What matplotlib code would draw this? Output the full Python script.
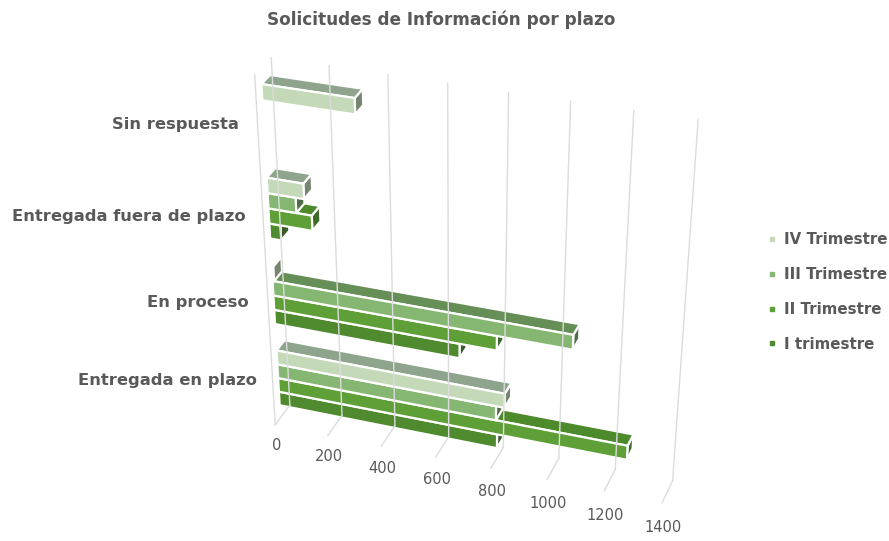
import numpy as np
import matplotlib
matplotlib.use("Agg")
import matplotlib.pyplot as plt
from matplotlib.lines import Line2D

categories = ["Entregada en plazo", "En proceso", "Entregada fuera de plazo", "Sin respuesta"]
series = ["I trimestre", "II Trimestre", "III Trimestre", "IV Trimestre"]
q1 = [805, 670, 40, 0]
q2 = [1260, 800, 155, 0]
q3 = [800, 1060, 100, 0]
q4 = [830, 5, 130, 320]
values = [q1, q2, q3, q4]
ticks = [0, 200, 400, 600, 800, 1000, 1200, 1400]

front_cols = ["#4f8a2e", "#5f9f38", "#86b772", "#c3d9b8"]
top_cols = ["#3f7026", "#4c8a2c", "#668f58", "#8fa48c"]
end_cols = ["#3a5a28", "#3f6b2a", "#4f6b48", "#75856f"]
grid_col = "#dcdcdc"
text_col = "#595959"

# wall corners in pixels, (value, height, depth) -> (x, y), used to fit a camera
world = np.array([[0, 0, 0], [0, 1, 0], [0, 0, 1], [0, 1, 1], [1400, 0, 0], [1400, 1, 0], [1400, 0, 1]], float)
pixel = np.array([[288, 408], [273, 57], [277, 422], [253, 75], [673, 478], [698, 120], [662, 505]], float)
world[:, 0] /= 1400

rows = []
rhs = []
for (a, b, c), (x, y) in zip(world, pixel):
    rows.append([a, b, c, 1, 0, 0, 0, 0, -x * a, -x * b, -x * c])
    rhs.append(x)
    rows.append([0, 0, 0, 0, a, b, c, 1, -y * a, -y * b, -y * c])
    rhs.append(y)
cam = np.linalg.lstsq(np.array(rows), np.array(rhs), rcond=None)[0]
cam = np.append(cam, 1).reshape(3, 4)


def project(v, h, d):
    p = cam @ np.array([v / 1400, h, d, 1])
    return p[0] / p[2], p[1] / p[2]


def face(points, col):
    xy = [project(*p) for p in points]
    ax.fill(*zip(*xy), facecolor=col, edgecolor="white", linewidth=1.6, joinstyle="miter")


plt.rcParams["font.family"] = "DejaVu Sans"
fig = plt.figure(figsize=(8.89, 5.41), dpi=100)
ax = fig.add_axes([0, 0, 1, 1])
ax.set_xlim(0, 889)
ax.set_ylim(541, 0)
ax.axis("off")

for t in ticks:
    ax.plot(*zip(project(t, 0, 0), project(t, 1, 0)), color=grid_col, lw=1)
    ax.plot(*zip(project(t, 0, 0), project(t, 0, 1)), color=grid_col, lw=1)
    x, y = project(t, 0, 1)
    ax.text(x + 1, y + 21 + 4 * t / 1400, str(t), ha="center", va="center", fontsize=10.5, color=text_col)
ax.plot(*zip(project(0, 0, 1), project(0, 1, 1)), color=grid_col, lw=1)

d_back = 0.12
d_front = 0.65
slot = 0.17
for c in range(len(categories)):
    for s in range(len(series)):
        val = values[s][c]
        if val == 0:
            continue
        h0 = (c + 0.16 + s * slot) / 4
        h1 = (c + 0.16 + (s + 1) * slot) / 4
        face([(val, h0, d_front), (val, h0, d_back), (val, h1, d_back), (val, h1, d_front)], end_cols[s])
        face([(0, h1, d_front), (val, h1, d_front), (val, h1, d_back), (0, h1, d_back)], top_cols[s])
        face([(0, h0, d_front), (val, h0, d_front), (val, h1, d_front), (0, h1, d_front)], front_cols[s])

ax.text(441, 20, "Solicitudes de Información por plazo", ha="center", va="center", fontsize=12.2,
        color=text_col, fontweight="bold")

label_x = [257, 249, 246, 239]
label_y = [381, 303, 216, 125]
for name, x, y in zip(categories, label_x, label_y):
    ax.text(x, y, name, ha="right", va="center", fontsize=11.8, color=text_col, fontweight="bold")

handles = [Line2D([], [], ls="", marker="s", ms=3.5, color=col) for col in front_cols[::-1]]
ax.legend(handles, series[::-1], loc="center left", bbox_to_anchor=(760 / 889, 1 - 292 / 541), frameon=False,
          labelcolor=text_col, prop={"size": 10.8, "weight": "bold"}, labelspacing=1.32, handlelength=0.8,
          handletextpad=0.4, borderaxespad=0)

fig.savefig("out.png", dpi=100)
